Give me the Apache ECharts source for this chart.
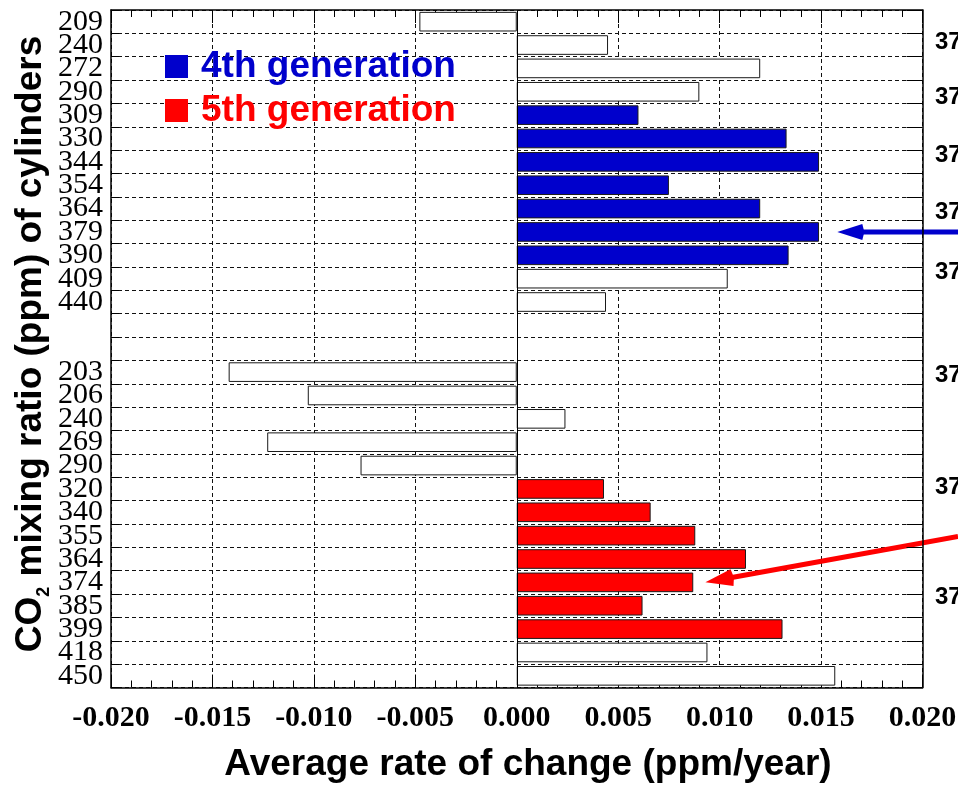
<!DOCTYPE html>
<html><head><meta charset="utf-8">
<script src="https://cdn.jsdelivr.net/npm/echarts@6/dist/echarts.min.js"></script>
<style>html,body{margin:0;padding:0;background:#fff}#c{width:958px;height:786px}</style>
</head><body><div id="c"></div>
<script>
// Cylinder CO2 mixing ratios (ppm), top to bottom; two blank spacer rows between the groups
const categories = ['209','240','272','290','309','330','344','354','364','379','390','409','440','','',
  '203','206','240','269','290','320','340','355','364','374','385','399','418','450'];

// Average rate of change (ppm/year)
const otherRates = [-0.0048,0.0045,0.0120,0.0090,null,null,null,null,null,null,null,0.0104,0.0044,null,null,
  -0.0142,-0.0103,0.0024,-0.0123,-0.0077,null,null,null,null,null,null,null,0.0094,0.0157];
const gen4Rates = [null,null,null,null,0.0060,0.0133,0.0149,0.0075,0.0120,0.0149,0.0134,null,null,null,null,
  null,null,null,null,null,null,null,null,null,null,null,null,null,null];
const gen5Rates = [null,null,null,null,null,null,null,null,null,null,null,null,null,null,null,
  null,null,null,null,null,0.0043,0.0066,0.0088,0.0113,0.0087,0.0062,0.0131,null,null];

const seriesNames = ['4th generation','5th generation'];
const sideLabels = ['37','37','37','37','37','37','37','37'];
// arrow targets: [rate value, row index]
const blueArrowTarget = [0.0158, 9];
const redArrowTarget = [0.0093, 24];

const BLUE = '#0000cc', RED = '#ff0000';
const chart = echarts.init(document.getElementById('c'), null, {renderer:'canvas'});

const dash = {color:'#111', type:[4,3], width:1};
const frame = {color:'#000', width:1.5};

function barSeries(name, data, color, extra) {
  return Object.assign({
    type:'bar', name, data, barGap:'-100%', barCategoryGap:'16%', silent:true,
    itemStyle:{color, borderColor:'#1a1a1a', borderWidth:1}
  }, extra || {});
}

chart.setOption({
  animation:false,
  backgroundColor:'#fff',
  grid:{left:111, right:35.5, top:10, bottom:98.5, containLabel:false, outerBoundsMode:'none'},
  legend:{
    orient:'vertical', left:165, top:48, padding:0, itemGap:7, itemWidth:23, itemHeight:23,
    icon:'rect', selectedMode:false, itemStyle:{borderWidth:0},
    textStyle:{fontFamily:'Liberation Sans', fontWeight:'bold', fontSize:37, padding:[0,0,0,8]},
    data:[{name:seriesNames[0], textStyle:{color:BLUE}}, {name:seriesNames[1], textStyle:{color:RED}}]
  },
  xAxis:[{
    type:'value', min:-0.02, max:0.02, interval:0.005, position:'bottom',
    axisLine:{show:true, onZero:false, lineStyle:frame},
    axisTick:{show:true, inside:true, length:13, lineStyle:{color:'#000'}},
    minorTick:{show:true, splitNumber:5, length:7, lineStyle:{color:'#000'}},
    splitLine:{show:true, lineStyle:dash},
    axisLabel:{fontFamily:'Liberation Serif', fontWeight:'bold', fontSize:30, color:'#000', margin:16,
      hideOverlap:false, formatter:v => v.toFixed(3)}
  },{
    type:'value', min:-0.02, max:0.02, interval:0.005, position:'top',
    axisLine:{show:true, onZero:false, lineStyle:frame},
    axisTick:{show:true, inside:true, length:13, lineStyle:{color:'#000'}},
    minorTick:{show:true, splitNumber:5, length:7, lineStyle:{color:'#000'}},
    splitLine:{show:false}, axisLabel:{show:false}
  }],
  yAxis:[{
    type:'category', data:categories, inverse:true, position:'left',
    axisLine:{show:true, onZero:false, lineStyle:frame},
    axisTick:{show:true, inside:true, length:8, lineStyle:{color:'#000'}},
    splitLine:{show:true, lineStyle:dash},
    axisLabel:{interval:0, fontFamily:'Liberation Serif', fontSize:30, color:'#000', margin:8}
  },{
    type:'category', data:categories, inverse:true, position:'right',
    axisLine:{show:true, onZero:false, lineStyle:frame},
    axisTick:{show:true, inside:true, length:16, lineStyle:{color:'#000'}},
    splitLine:{show:false}, axisLabel:{show:false}
  }],
  series:[
    barSeries('other', otherRates, '#ffffff', {
      markLine:{silent:true, symbol:'none', label:{show:false}, animation:false,
        lineStyle:{color:'#000', type:'solid', width:1}, data:[{xAxis:0}]}
    }),
    barSeries(seriesNames[0], gen4Rates, BLUE),
    barSeries(seriesNames[1], gen5Rates, RED)
  ]
});

function arrow(tip, tail, color, headLen, headHalf, width) {
  const dx = tail[0]-tip[0], dy = tail[1]-tip[1];
  const L = Math.hypot(dx, dy), ux = dx/L, uy = dy/L, px = -uy, py = ux;
  const bx = tip[0]+ux*headLen, by = tip[1]+uy*headLen;
  return [
    {type:'line', silent:true, shape:{x1:bx-ux*3, y1:by-uy*3, x2:tail[0], y2:tail[1]},
      style:{stroke:color, lineWidth:width}},
    {type:'polygon', silent:true, shape:{points:[tip, [bx+px*headHalf, by+py*headHalf],
      [bx+ux*2, by+uy*2], [bx-px*headHalf, by-py*headHalf]]},
      style:{fill:color}}
  ];
}

const W = chart.getWidth();
const blueTip = chart.convertToPixel({gridIndex:0}, blueArrowTarget);
const redTip = chart.convertToPixel({gridIndex:0}, redArrowTarget);
const sideY = [42, 97, 155, 212, 272, 375, 487, 597];

const titleFont = {fontFamily:'Liberation Sans', fontWeight:'bold'};
const graphics = [
  {type:'text', silent:true, x:528, y:765, style:Object.assign({
    text:'Average rate of change (ppm/year)', fontSize:37, fill:'#000', align:'center', verticalAlign:'middle'}, titleFont)},
  {type:'text', silent:true, x:31, y:344, rotation:Math.PI/2, style:{
    text:'{a|CO}{s|2}{a| mixing ratio (ppm) of cylinders}', align:'center', verticalAlign:'middle',
    rich:{
      a:Object.assign({fontSize:37, lineHeight:44, fill:'#000'}, titleFont),
      s:Object.assign({fontSize:18, lineHeight:18, verticalAlign:'bottom', fill:'#000'}, titleFont)
    }}},
  ...arrow(blueTip, [W, blueTip[1]], BLUE, 25, 8, 5),
  ...arrow(redTip, [W, redTip[1]-46], RED, 27, 8.5, 5)
];
sideLabels.forEach((t, i) => graphics.push({type:'text', silent:true, x:935, y:sideY[i],
  style:Object.assign({text:t, fontSize:24, fill:'#000', align:'left', verticalAlign:'middle'}, titleFont)}));
chart.setOption({graphic:graphics});
</script>
</body></html>
